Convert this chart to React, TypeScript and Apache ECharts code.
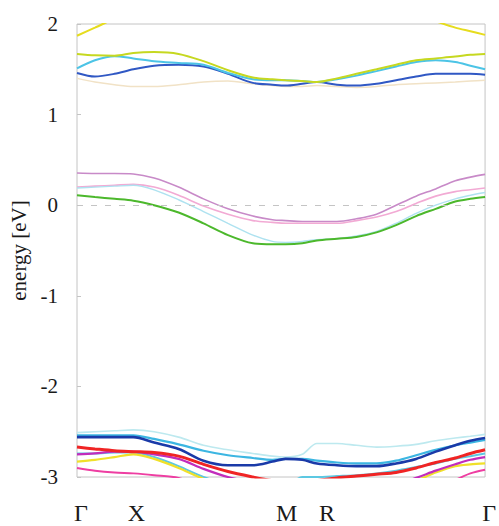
import React, { useEffect, useRef } from "react";
import * as echarts from "echarts";

// k-path sample positions (normalized path length, Γ = 0 ... Γ = 1)
const kPoints = [0, 0.044, 0.092, 0.138, 0.189, 0.249, 0.31, 0.37, 0.431, 0.479, 0.511, 0.552, 0.588, 0.637, 0.685, 0.734, 0.782, 0.831, 0.879, 0.927, 0.964, 1.0];

// high-symmetry points
const symLabels = ["Γ", "X", "M", "R", "Γ"];
const symPositions = [0, 0.136, 0.504, 0.603, 1.0];

const yTicks = [-3, -2, -1, 0, 1, 2];

// upper bands (eV)
const bandYellowTop = [1.87, 1.96, 2.06, 2.15, 2.2, 2.25, 2.28, 2.3, 2.3, 2.3, 2.3, 2.3, 2.3, 2.28, 2.25, 2.2, 2.15, 2.1, 2.03, 1.96, 1.92, 1.88];
const bandYellowGreen = [1.67, 1.655, 1.65, 1.68, 1.69, 1.67, 1.59, 1.49, 1.41, 1.39, 1.38, 1.37, 1.36, 1.4, 1.45, 1.5, 1.55, 1.6, 1.62, 1.64, 1.66, 1.67];
const bandCyanUp = [1.51, 1.6, 1.645, 1.62, 1.59, 1.57, 1.55, 1.46, 1.39, 1.38, 1.38, 1.37, 1.36, 1.39, 1.43, 1.48, 1.53, 1.58, 1.6, 1.58, 1.54, 1.5];
const bandBlueUp = [1.46, 1.42, 1.45, 1.5, 1.54, 1.55, 1.53, 1.45, 1.35, 1.33, 1.32, 1.34, 1.36, 1.33, 1.32, 1.34, 1.38, 1.42, 1.45, 1.45, 1.45, 1.44];
const bandFaint = [1.4, 1.36, 1.33, 1.31, 1.31, 1.33, 1.36, 1.37, 1.34, 1.32, 1.31, 1.31, 1.32, 1.31, 1.3, 1.31, 1.33, 1.34, 1.35, 1.36, 1.37, 1.38];

// bands around the Fermi level
const bandPurple = [0.355, 0.35, 0.35, 0.345, 0.3, 0.2, 0.07, -0.04, -0.12, -0.16, -0.17, -0.18, -0.18, -0.18, -0.15, -0.1, 0.0, 0.1, 0.18, 0.27, 0.31, 0.34];
const bandPink = [0.2, 0.21, 0.22, 0.23, 0.2, 0.11, -0.01, -0.1, -0.17, -0.19, -0.2, -0.2, -0.2, -0.2, -0.17, -0.13, -0.07, 0.02, 0.1, 0.15, 0.17, 0.19];
const bandLightCyanMid = [0.19, 0.2, 0.21, 0.22, 0.17, 0.06, -0.07, -0.2, -0.33, -0.4, -0.41, -0.4, -0.38, -0.37, -0.34, -0.29, -0.2, -0.09, 0.0, 0.07, 0.11, 0.14];
const bandGreen = [0.11, 0.09, 0.07, 0.05, 0.0, -0.08, -0.2, -0.33, -0.42, -0.43, -0.43, -0.42, -0.39, -0.37, -0.35, -0.3, -0.22, -0.12, -0.04, 0.04, 0.07, 0.09];

// lower bands
const bandLightCyanLow = [-2.51, -2.5, -2.49, -2.48, -2.5, -2.56, -2.65, -2.7, -2.74, -2.77, -2.78, -2.75, -2.63, -2.63, -2.65, -2.67, -2.66, -2.64, -2.6, -2.57, -2.55, -2.53];
const bandCyan2Low = [-2.74, -2.74, -2.73, -2.73, -2.78, -2.88, -3.0, -3.08, -3.1, -3.1, -3.1, -3.0, -3.0, -2.99, -2.98, -2.96, -2.93, -2.89, -2.85, -2.8, -2.77, -2.74];
const bandPinkLow = [-2.9, -2.93, -2.95, -2.96, -2.98, -3.01, -3.1, -3.1, -3.1, -3.1, -3.1, -3.1, -3.1, -3.1, -3.1, -3.1, -3.1, -3.1, -3.08, -3.03, -2.96, -2.92];
const bandYellowLow = [-2.83, -2.81, -2.78, -2.75, -2.8, -2.9, -3.02, -3.1, -3.1, -3.1, -3.1, -3.1, -3.1, -3.1, -3.1, -3.1, -3.1, -3.04, -2.95, -2.88, -2.86, -2.85];
const bandMagentaLow = [-2.75, -2.74, -2.72, -2.72, -2.75, -2.8, -2.91, -3.0, -3.06, -3.1, -3.1, -3.1, -3.1, -3.1, -3.1, -3.1, -3.08, -3.01, -2.93, -2.86, -2.81, -2.78];
const bandCyanLow = [-2.54, -2.54, -2.54, -2.54, -2.58, -2.64, -2.71, -2.76, -2.79, -2.81, -2.8, -2.8, -2.82, -2.84, -2.85, -2.85, -2.82, -2.76, -2.7, -2.65, -2.62, -2.59];
const bandBlueLow = [-2.56, -2.56, -2.56, -2.56, -2.62, -2.69, -2.82, -2.87, -2.87, -2.83, -2.8, -2.81, -2.85, -2.87, -2.88, -2.88, -2.85, -2.8, -2.72, -2.65, -2.6, -2.57];
const bandRedLow = [-2.67, -2.69, -2.71, -2.72, -2.73, -2.77, -2.86, -2.94, -3.0, -3.04, -3.05, -3.06, -3.04, -3.01, -2.99, -2.97, -2.95, -2.9, -2.84, -2.79, -2.74, -2.7];

const bands: { name: string; values: number[]; color: string; width: number }[] = [
  { name: "faint", values: bandFaint, color: "#f1e2c6", width: 1.5 },
  { name: "yellowTop", values: bandYellowTop, color: "#e6dc1e", width: 2 },
  { name: "blueUp", values: bandBlueUp, color: "#3058c4", width: 2 },
  { name: "cyanUp", values: bandCyanUp, color: "#4cc4e6", width: 2 },
  { name: "yellowGreen", values: bandYellowGreen, color: "#c6d820", width: 2 },
  { name: "purple", values: bandPurple, color: "#c88ac8", width: 1.6 },
  { name: "pink", values: bandPink, color: "#f2aad4", width: 1.6 },
  { name: "lightCyanMid", values: bandLightCyanMid, color: "#aee2f0", width: 1.4 },
  { name: "green", values: bandGreen, color: "#4cb82c", width: 2 },
  { name: "lightCyanLow", values: bandLightCyanLow, color: "#bde9ef", width: 1.6 },
  { name: "cyan2Low", values: bandCyan2Low, color: "#5cc8e2", width: 2 },
  { name: "pinkLow", values: bandPinkLow, color: "#ee3ea2", width: 2 },
  { name: "yellowLow", values: bandYellowLow, color: "#f0e02a", width: 2.2 },
  { name: "magentaLow", values: bandMagentaLow, color: "#c22cbc", width: 2.2 },
  { name: "cyanLow", values: bandCyanLow, color: "#3cb6e2", width: 2.2 },
  { name: "blueLow", values: bandBlueLow, color: "#1a3aa8", width: 2.6 },
  { name: "redLow", values: bandRedLow, color: "#f02424", width: 3 },
];

export default function App() {
  const ref = useRef<HTMLDivElement>(null);

  useEffect(() => {
    if (!ref.current) return;
    const chart = echarts.init(ref.current, undefined, { renderer: "svg" });
    const serif = "Liberation Serif";

    const series: any[] = bands.map((b, i) => ({
      name: b.name,
      type: "line",
      data: kPoints.map((k, j) => [k, b.values[j]]),
      showSymbol: false,
      symbol: "none",
      smooth: 0.3,
      clip: true,
      lineStyle: { color: b.color, width: b.width },
      emphasis: { disabled: true },
      silent: true,
      ...(i === 0
        ? {
            markLine: {
              silent: true,
              symbol: ["none", "none"],
              label: { show: false },
              lineStyle: { type: [6, 8], color: "#c4c4c4", width: 1 },
              data: [{ yAxis: 0 }],
            },
          }
        : {}),
    }));

    chart.setOption({
      animation: false,
      backgroundColor: "#ffffff",
      textStyle: { fontFamily: serif },
      grid: {
        left: 77,
        right: 9,
        top: 24,
        bottom: 49,
        show: true,
        borderColor: "#c4c4c4",
        borderWidth: 1,
        backgroundColor: "transparent",
      },
      xAxis: {
        type: "value",
        min: 0,
        max: 1,
        axisLine: { show: false },
        axisTick: { show: false },
        splitLine: { show: false },
        axisLabel: {
          customValues: symPositions,
          formatter: (v: number) => {
            let best = 0;
            for (let i = 1; i < symPositions.length; i++) {
              if (Math.abs(symPositions[i] - v) < Math.abs(symPositions[best] - v)) best = i;
            }
            return symLabels[best];
          },
          fontFamily: serif,
          fontSize: 24,
          color: "#1a1a1a",
          margin: 24,
          padding: [0, 0, 0, 8],
          showMinLabel: true,
          showMaxLabel: true,
          hideOverlap: false,
        },
      },
      yAxis: {
        type: "value",
        min: -3,
        max: 2,
        interval: 1,
        name: "energy [eV]",
        nameLocation: "middle",
        nameGap: 35,
        nameTextStyle: { fontFamily: serif, fontSize: 21, color: "#1a1a1a" },
        axisLine: { show: false },
        axisTick: { show: true, inside: true, length: 4, lineStyle: { color: "#c4c4c4" } },
        splitLine: { show: false },
        axisLabel: {
          formatter: (v: number) => String(yTicks.find((t) => t === v) ?? v),
          fontFamily: serif,
          fontSize: 21,
          color: "#1a1a1a",
          margin: 19,
        },
      },
      series,
    });

    return () => chart.dispose();
  }, []);

  return (
    <div
      ref={ref}
      style={{ position: "fixed", left: 0, top: 0, width: 499, height: 526, background: "#fff" }}
    />
  );
}
